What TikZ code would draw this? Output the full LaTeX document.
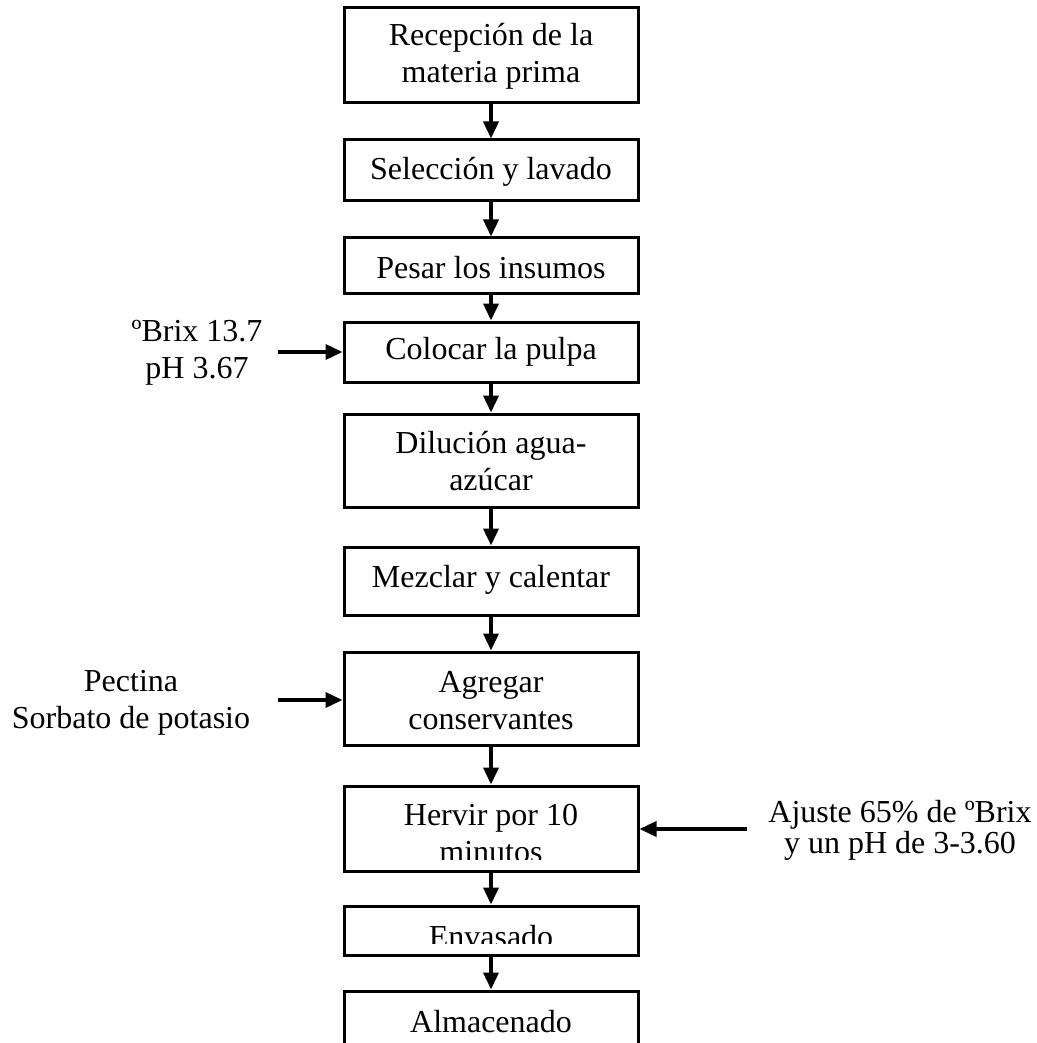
\documentclass[tikz,border=0pt]{standalone}
\usepackage{fontspec}
\setmainfont{Liberation Serif}
\usetikzlibrary{arrows.meta}
\begin{document}
\begin{tikzpicture}[x=0.5pt,y=-0.5pt,
  box/.style={draw, line width=1.5pt, minimum width=147pt, inner sep=0pt},
  lbl/.style={font=\fontsize{16}{18.5}\selectfont, align=center, inner sep=0pt},
  flow/.style={line width=1.8pt, -{Triangle[width=7.5pt,length=8.5pt]}}]
\clip (0,0) rectangle (1037,1043);
\fill[white] (0,0) rectangle (1037,1043);
% boxes
\node[box, minimum height=47.5pt] (b1) at (491,55.5) {};
\node[box, minimum height=30.5pt] (b2) at (491,170.5) {};
\node[box, minimum height=27.5pt] (b3) at (491,265.5) {};
\node[box, minimum height=30pt] (b4) at (491,352) {};
\node[box, minimum height=46.5pt] (b5) at (491,460.5) {};
\node[box, minimum height=34pt] (b6) at (491,581) {};
\node[box, minimum height=46.5pt] (b7) at (491,698.5) {};
\node[box, minimum height=42.5pt] (b8) at (491,828.5) {};
\node[box, minimum height=24.5pt] (b9) at (491,930.5) {};
\node[box, minimum height=32pt] (b10) at (491,1023) {};
% texts
\node[lbl] (t1) at (491,56) {Recepción de la\\materia prima};
\node[lbl] (t2) at (491,172) {Selección y lavado};
\node[lbl] (t3) at (491,268) {Pesar los insumos};
\node[lbl] (t4) at (491,352) {Colocar la pulpa};
\node[lbl] (t5) at (491,461) {Dilución agua-\\azúcar};
\node[lbl] (t6) at (491,580) {Mezclar y calentar};
\node[lbl] (t7) at (491,701) {Agregar\\conservantes};
\node[lbl] (t8) at (491,834) {Hervir por 10\\minutos};
\node[lbl] (t9) at (491,937) {Envasado};
\node[lbl] (t10) at (491,1022) {Almacenado};
% clipped text bottoms
\fill[white] (347,860) rectangle (635,869);
\fill[white] (347,944) rectangle (635,953);
% side labels
\node[lbl] (s1) at (197,353) {ºBrix 13.7\\pH 3.67};
\node[lbl] (s2) at (131,703) {Pectina\\Sorbato de potasio};
\node[lbl, font=\fontsize{16}{15.5}\selectfont] (s3) at (900,830) {Ajuste 65\% de ºBrix\\y un pH de 3-3.60};
\coordinate (a1) at (278,352);
\coordinate (a2) at (278,700);
\coordinate (a3) at (747,829);
% connectors
\draw[flow] (b1) -- (b2);
\draw[flow] (b2) -- (b3);
\draw[flow] (b3) -- (b4);
\draw[flow] (b4) -- (b5);
\draw[flow] (b5) -- (b6);
\draw[flow] (b6) -- (b7);
\draw[flow] (b7) -- (b8);
\draw[flow] (b8) -- (b9);
\draw[flow] (b9) -- (b10);
\draw[flow] (a1) -- (a1 -| b4.west);
\draw[flow] (a2) -- (a2 -| b7.west);
\draw[flow] (a3) -- (a3 -| b8.east);
\end{tikzpicture}
\end{document}
